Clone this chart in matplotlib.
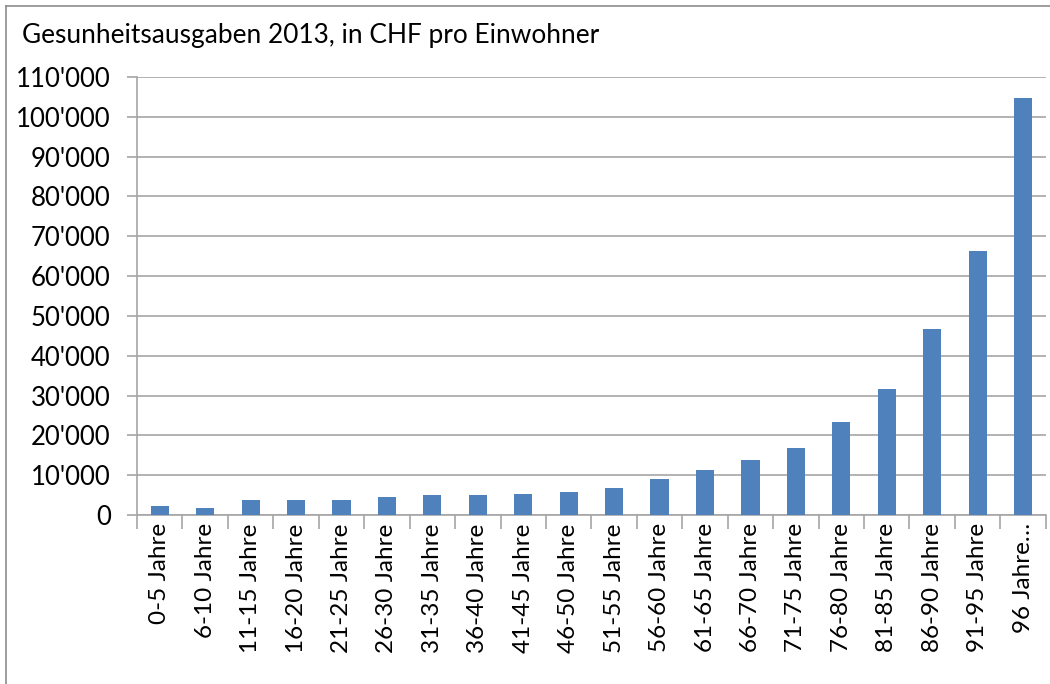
#bar chart of health spending per resident by age group, switzerland 2013
import matplotlib
matplotlib.use("Agg")
import matplotlib.pyplot as plt
import numpy as np
from matplotlib.lines import Line2D

#age groups
groups = ["0-5 Jahre", "6-10 Jahre", "11-15 Jahre", "16-20 Jahre", "21-25 Jahre",
          "26-30 Jahre", "31-35 Jahre", "36-40 Jahre", "41-45 Jahre", "46-50 Jahre",
          "51-55 Jahre", "56-60 Jahre", "61-65 Jahre", "66-70 Jahre", "71-75 Jahre",
          "76-80 Jahre", "81-85 Jahre", "86-90 Jahre", "91-95 Jahre", "96 Jahre…"]

#CHF per resident
spending = [2200, 1700, 3850, 3850, 3850, 4400, 4900, 4900, 5250, 5850,
            6900, 9100, 11200, 13700, 16800, 23300, 31700, 46700, 66300, 104800]

y_ticks = list(range(0, 110001, 10000))

plt.rcParams["font.family"] = ["Lato", "DejaVu Sans"]

fig = plt.figure(figsize=(10.5, 6.84), dpi=100)
ax = fig.add_axes([0.1305, 0.2471, 0.8655, 0.6403])

x = np.arange(len(groups))
ax.bar(x, spending, width=0.4, color="#4f81bd", zorder=3)

#gridlines and axes in excel style grey
grey = "#a6a6a6"
ax.set_ylim(0, 110000)
ax.set_xlim(-0.5, len(groups) - 0.5)
ax.set_yticks(y_ticks)
ax.set_yticklabels([f"{v:,}".replace(",", "'") for v in y_ticks], fontsize=18.5)
ax.yaxis.grid(True, color=grey, linewidth=1.2, zorder=0)

#ticks between the categories, labels at the centres
ax.set_xticks(np.arange(-0.5, len(groups), 1))
ax.set_xticklabels([])
ax.set_xticks(x, minor=True)
ax.set_xticklabels(groups, minor=True, rotation=90, fontsize=17.5)
ax.tick_params(axis="x", which="major", length=10, color=grey, width=1.2)
ax.tick_params(axis="x", which="minor", length=0, pad=6)
ax.tick_params(axis="y", length=7, color=grey, width=1.2, pad=12)

for side in ["top", "right"]:
    ax.spines[side].set_visible(False)
for side in ["left", "bottom"]:
    ax.spines[side].set_color(grey)
    ax.spines[side].set_linewidth(1.2)

fig.text(0.021, 0.948, "Gesunheitsausgaben 2013, in CHF pro Einwohner",
         fontsize=18.9, va="center", ha="left")

#outer frame round the chart, only top and left edges fall inside the picture
frame = dict(transform=fig.transFigure, color="#8c8c8c", linewidth=1.2)
fig.lines.append(Line2D([0.006, 1.0], [0.991, 0.991], **frame))
fig.lines.append(Line2D([0.006, 0.006], [0.0, 0.991], **frame))

fig.savefig("out.png", dpi=100)
